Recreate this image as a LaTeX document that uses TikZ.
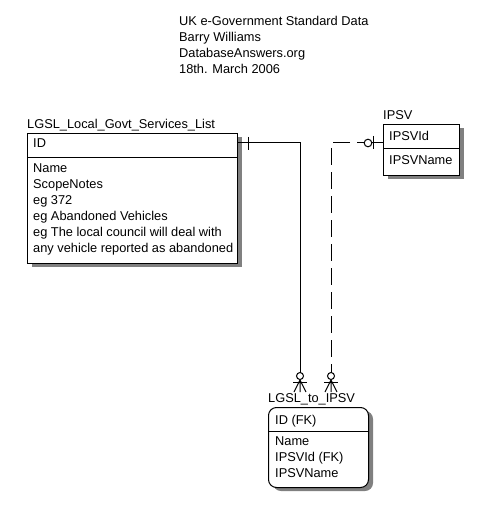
\documentclass[tikz,border=0pt]{standalone}
\usepackage{fontspec}
\setmainfont{Liberation Sans}
\usetikzlibrary{positioning}

\begin{document}
\begin{tikzpicture}[x=1pt,y=-1pt,
	lbl/.style={font=\fontsize{12.8}{16}\selectfont,inner sep=0pt,anchor=north west,align=left},
	ent/.style={draw,fill=white,line width=1pt,anchor=north west,inner sep=0pt},
	shade/.style={fill=black!50},
	rel/.style={line width=1pt}]
	\useasboundingbox[fill=white] (0,0) rectangle (496,513);

	% heading
	\node[lbl] (head) at (179,16.4) {UK e-Government Standard Data\\Barry Williams\\DatabaseAnswers.org\\18th. March 2006};

	% LGSL_Local_Govt_Services_List
	\fill[shade] (32,137) rectangle (242,267);
	\node[ent,minimum width=210,minimum height=130] (lgsl) at (27,133) {};
	\draw ([yshift=-24pt]lgsl.north west) -- ([yshift=-24pt]lgsl.north east);
	\node[lbl,anchor=south west,above right=1.8pt and 0pt of lgsl.north west] (lgsltitle) {LGSL\_Local\_Govt\_Services\_List};
	\node[lbl] (lgslkey) at (33,138.8) {ID};
	\node[lbl] (lgslatt) at (33,163.5) {Name\\ScopeNotes\\eg 372\\eg Abandoned Vehicles\\eg The local council will deal with\\any vehicle reported as abandoned};

	% IPSV
	\fill[shade] (388,128) rectangle (464,179);
	\node[ent,minimum width=76,minimum height=51] (ipsv) at (383,124) {};
	\draw ([yshift=-24pt]ipsv.north west) -- ([yshift=-24pt]ipsv.north east);
	\node[lbl,anchor=south west,above right=4pt and 0pt of ipsv.north west] (ipsvtitle) {IPSV};
	\node[lbl] (ipsvkey) at (389,130.8) {IPSVId};
	\node[lbl] (ipsvatt) at (389,155.8) {IPSVName};

	% LGSL_to_IPSV
	\fill[shade,rounded corners=8] (273,411) rectangle (373,491);
	\node[ent,rounded corners=8,minimum width=100,minimum height=80] (link) at (268,407) {};
	\draw ([yshift=-24pt]link.north west) -- ([yshift=-24pt]link.north east);
	\node[lbl,anchor=south west,above right=1.8pt and 0pt of link.north west] (linktitle) {LGSL\_to\_IPSV};
	\node[lbl] (linkkey) at (275,414.8) {ID (FK)};
	\node[lbl] (linkatt) at (275,436.5) {Name\\IPSVId (FK)\\IPSVName};

	% LGSL -> LGSL_to_IPSV
	\coordinate (r1s) at (237,143);
	\coordinate (r1c) at (300,143);
	\coordinate (r1e) at (300,372.5);
	\draw[rel] (r1s) -- (r1c) -- (r1e);
	\draw[rel] (248,137) -- (248,150);
	\draw[rel] (300,376) circle (3.5);
	\draw[rel] (293,382) -- (307,382);
	\draw[rel] (300,379.5) -- (300,392) (300,380) -- (294,392) (300,380) -- (306,392);

	% IPSV -> LGSL_to_IPSV
	\coordinate (r2s) at (383,143);
	\coordinate (r2o) at (364,143);
	\coordinate (r2c) at (331,143);
	\coordinate (r2e) at (331,372.5);
	\draw[rel] (r2s) -- (372,143);
	\draw[rel] (373,136) -- (373,149);
	\draw[rel] (368,143) circle (3.8);
	\draw[rel,dash pattern=on 17pt off 7pt,dash phase=10pt] (r2o) -- (r2c) -- (r2e);
	\draw[rel] (331,376) circle (3.5);
	\draw[rel] (324,382) -- (338,382);
	\draw[rel] (331,379.5) -- (331,392) (331,380) -- (325,392) (331,380) -- (337,392);
\end{tikzpicture}
\end{document}
